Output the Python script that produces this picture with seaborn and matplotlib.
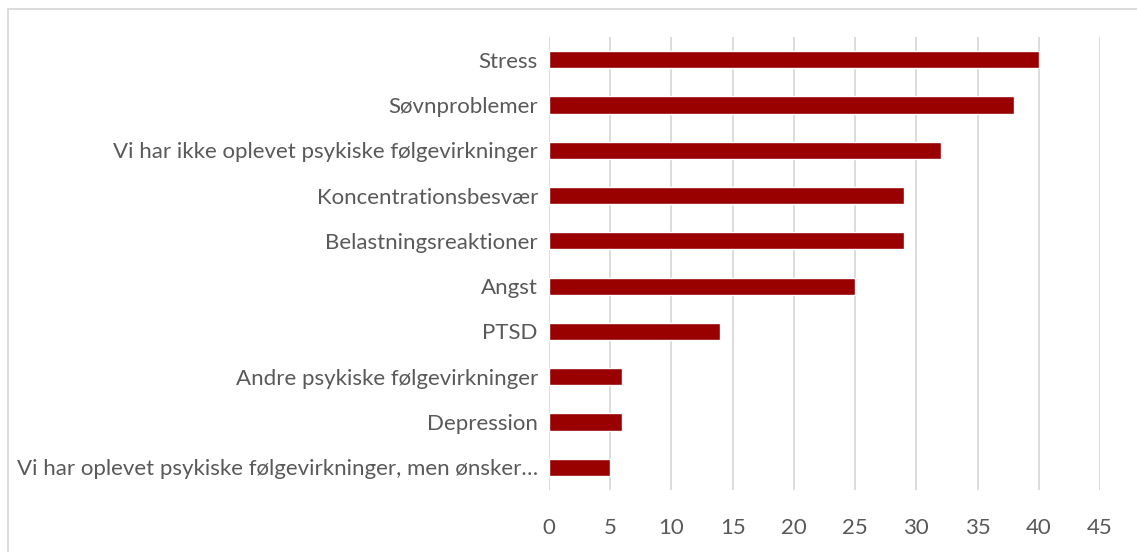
import matplotlib
matplotlib.use("Agg")
import matplotlib.pyplot as plt
import seaborn as sns
import pandas as pd
from matplotlib.patches import Rectangle

categories = [
    "Stress",
    "Søvnproblemer",
    "Vi har ikke oplevet psykiske følgevirkninger",
    "Koncentrationsbesvær",
    "Belastningsreaktioner",
    "Angst",
    "PTSD",
    "Andre psykiske følgevirkninger",
    "Depression",
    "Vi har oplevet psykiske følgevirkninger, men ønsker…",
]
values = [40, 38, 32, 29, 29, 25, 14, 6, 6, 5]
xticks = [0, 5, 10, 15, 20, 25, 30, 35, 40, 45]

sns.set_theme(style="white")
plt.rcParams['font.family'] = ['Lato', 'DejaVu Sans']

df = pd.DataFrame({"cat": categories, "val": values})

W, H = 1137, 552
fig = plt.figure(figsize=(W / 100, H / 100), dpi=100)
ax = fig.add_axes([549 / W, 1 - 490 / H, (1100 - 549) / W, (490 - 37) / H])

sns.barplot(data=df, x="val", y="cat", orient="h", color="#990000",
            width=0.38, saturation=1, ax=ax, zorder=3)

ax.set_xlim(0, 45)
ax.set_ylim(len(categories) - 0.5, -0.5)
ax.set_xticks(xticks)
ax.set_xticklabels([str(t) for t in xticks])
ax.grid(axis="x", color="#d9d9d9", linewidth=1.3, zorder=0)
ax.grid(axis="y", visible=False)
for s in ax.spines.values():
    s.set_visible(False)
ax.set_xlabel("")
ax.set_ylabel("")
ax.tick_params(axis="x", length=0, pad=20, labelsize=16, labelcolor="#595959")
ax.tick_params(axis="y", length=0, pad=8, labelsize=16, labelcolor="#595959")

fig.patches.append(Rectangle((8 / W, -0.1), 1.2, 1 - 9 / H + 0.1,
                             transform=fig.transFigure, fill=False,
                             edgecolor="#d9d9d9", linewidth=1.3))

fig.savefig("out.png", dpi=100, facecolor="white")
